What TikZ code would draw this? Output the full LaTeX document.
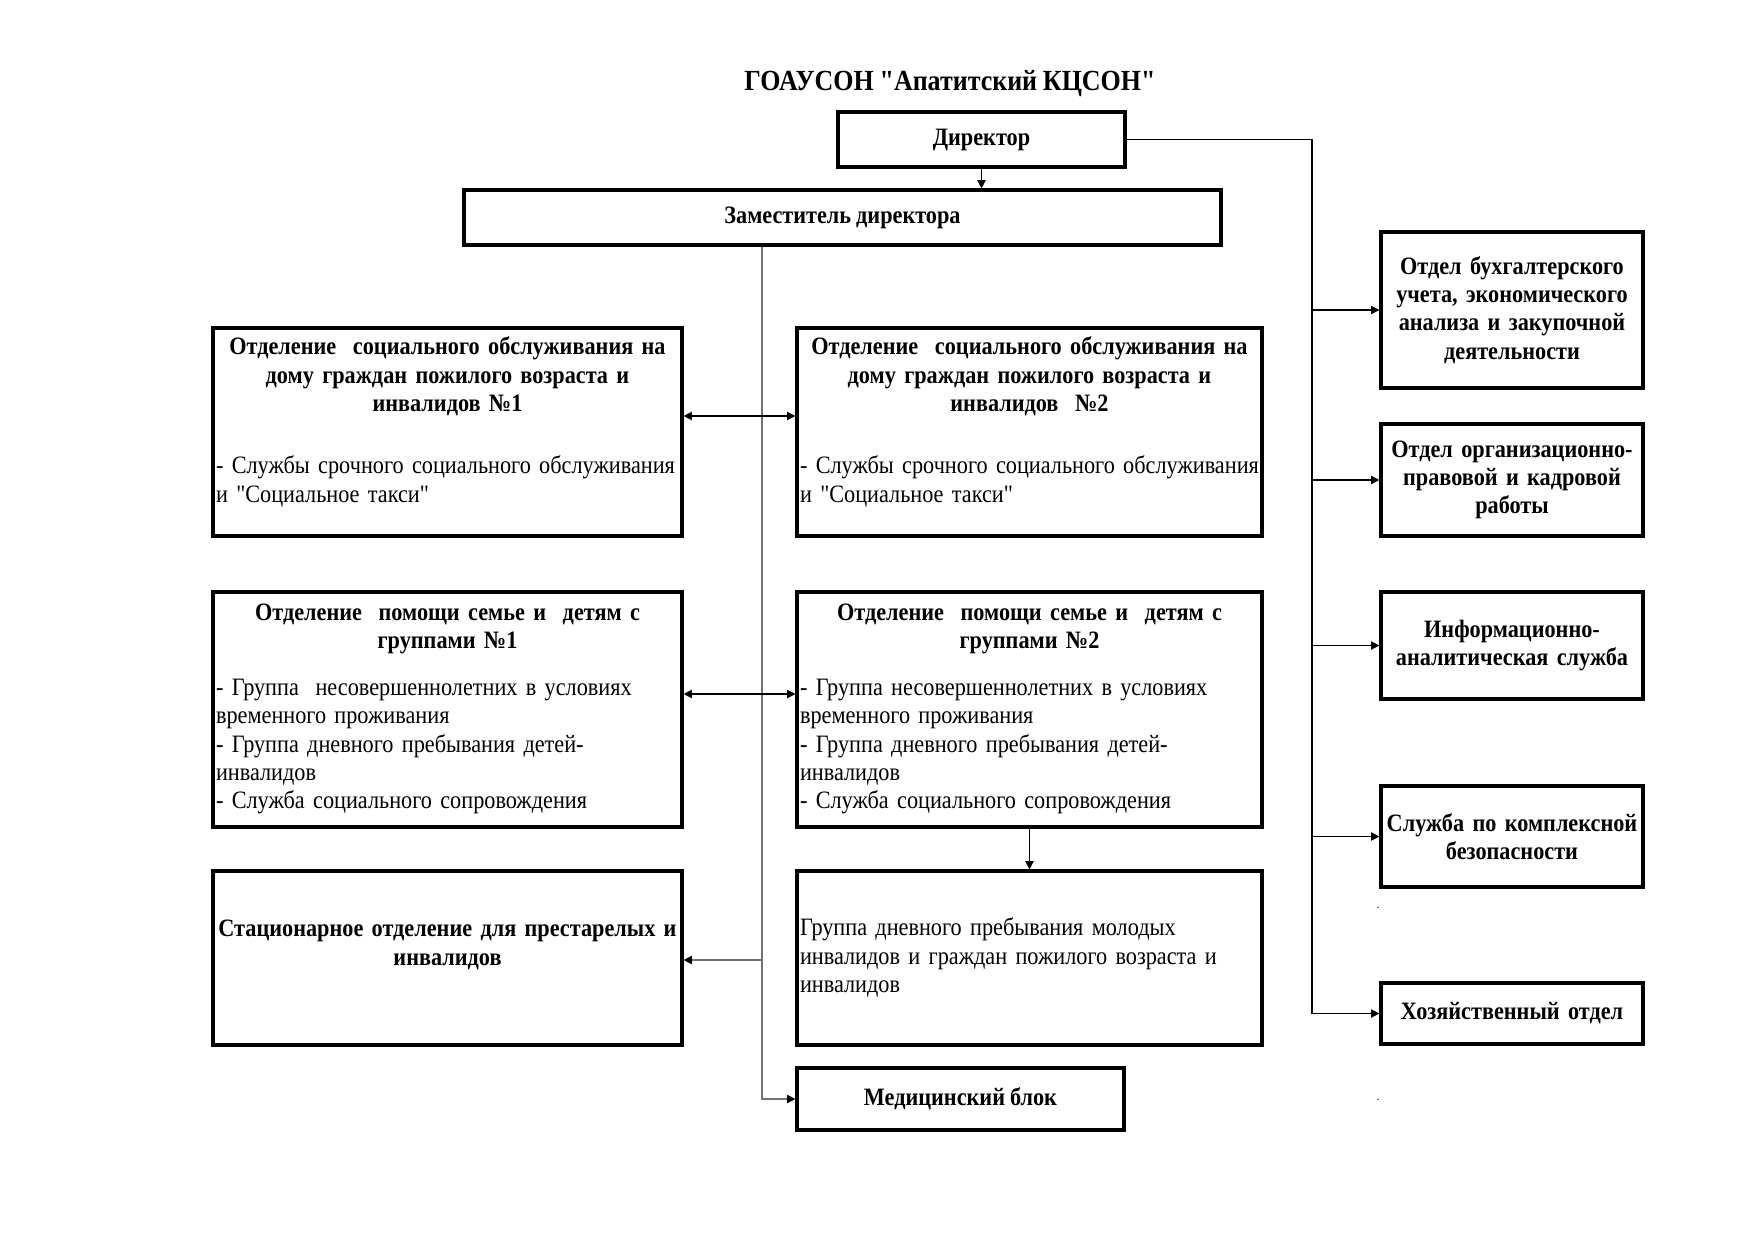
\documentclass[tikz,border=0pt]{standalone}
\usepackage{fontspec}
\setmainfont{Liberation Serif}[Ligatures=TeXOff,FakeStretch=0.89,WordSpace=0.89]
\usetikzlibrary{arrows.meta}
\setlength{\parindent}{0pt}
\begin{document}
\begin{tikzpicture}[x=0.48pt,y=-0.48pt,
  box/.style={draw,line width=1.5pt,inner sep=0pt,anchor=center,align=center,
    font=\fontsize{12}{13.6}\selectfont\bfseries},
  txt/.style={inner sep=0pt,font=\fontsize{12}{13.6}\selectfont},
  ctxt/.style={inner sep=0pt,align=center,font=\fontsize{12}{13.6}\selectfont\bfseries},
  tip/.style={-{Triangle[length=4pt,width=4pt,color=black]}},
  conn/.style={line width=0.6pt,draw=black},
  arr/.style={conn,tip},
  darr/.style={conn,{Triangle[length=4pt,width=4pt]}-{Triangle[length=4pt,width=4pt]}},
  gconn/.style={line width=0.6pt,draw=black!55},
  garr/.style={gconn,tip},
  dotnode/.style={inner sep=0pt,font=\fontsize{6}{6}\selectfont},
]
\useasboundingbox (0,0) rectangle (1754,1240);

% title
\node[inner sep=0pt,font=\fontsize{14}{16}\selectfont\bfseries] (title) at (950,84) {ГОАУСОН "Апатитский КЦСОН"};

% top boxes
\node[box,minimum width=137.8pt,minimum height=26.4pt] (dir) at (981.5,139.5) {Директор};
\node[box,minimum width=363.4pt,minimum height=26.4pt] (dep) at (842.5,217.5) {Заместитель директора};

% left/middle column boxes
\node[box,minimum width=225.1pt,minimum height=99.8pt] (A1) at (447.5,432) {};
\node[box,minimum width=223.2pt,minimum height=99.8pt] (A2) at (1029.5,432) {};
\node[box,minimum width=225.1pt,minimum height=112.8pt] (B1) at (447.5,709.5) {};
\node[box,minimum width=223.2pt,minimum height=112.8pt] (B2) at (1029.5,709.5) {};
\node[box,minimum width=225.1pt,minimum height=83.5pt] (C1) at (447.5,958) {};
\node[box,minimum width=223.2pt,minimum height=83.5pt] (C2) at (1029.5,958) {};
\node[box,minimum width=157pt,minimum height=29.8pt] (med) at (960.5,1099) {Медицинский блок};

% texts inside the large boxes
\node[txt,text width=222.2pt] (A1t) at (447.5,422) {{\centering\bfseries Отделение\ \ социального обслуживания на\\ дому граждан пожилого возраста и\\ инвалидов №1\par}\vspace{16.2pt}{\raggedright - Службы срочного социального обслуживания\\ и "Социальное такси"\par}};
\node[txt,text width=220.3pt] (A2t) at (1029.5,422) {{\centering\bfseries Отделение\ \ социального обслуживания на\\ дому граждан пожилого возраста и\\ инвалидов\ \ №2\par}\vspace{16.2pt}{\raggedright - Службы срочного социального обслуживания\\ и "Социальное такси"\par}};
\node[txt,text width=222.2pt] (B1t) at (447.5,709) {{\centering\bfseries Отделение\ \ помощи семье и\ \ детям с\\ группами №1\par}\vspace{9pt}{\raggedright - Группа\ \ несовершеннолетних в условиях\\ временного проживания\\ - Группа дневного пребывания детей-\\ инвалидов\\ - Служба социального сопровождения\par}};
\node[txt,text width=220.3pt] (B2t) at (1029.5,709) {{\centering\bfseries Отделение\ \ помощи семье и\ \ детям с\\ группами №2\par}\vspace{9pt}{\raggedright - Группа несовершеннолетних в условиях\\ временного проживания\\ - Группа дневного пребывания детей-\\ инвалидов\\ - Служба социального сопровождения\par}};
\node[ctxt,text width=222.2pt] (C1t) at (447.5,945) {Стационарное отделение для престарелых и\\ инвалидов};
\node[txt,text width=220.3pt,align=left] (C2t) at (1029.5,957.5) {Группа дневного пребывания молодых\\ инвалидов и граждан пожилого возраста и\\ инвалидов};

% right column
\node[box,minimum width=125.8pt,minimum height=74.9pt,text width=123pt] (R1) at (1512,310) {Отдел бухгалтерского\\ учета, экономического\\ анализа и закупочной\\ деятельности};
\node[box,minimum width=125.8pt,minimum height=53.8pt,text width=123pt] (R2) at (1512,480) {Отдел организационно-\\ правовой и кадровой\\ работы};
\node[box,minimum width=125.8pt,minimum height=51.4pt,text width=123pt] (R3) at (1512,645.5) {Информационно-\\ аналитическая служба};
\node[box,minimum width=125.8pt,minimum height=48.5pt,text width=123pt] (R4) at (1512,836.5) {Служба по комплексной\\ безопасности};
\node[box,minimum width=125.8pt,minimum height=29.3pt,text width=123pt] (R5) at (1512,1013.5) {Хозяйственный отдел};

\node[dotnode] (dot1) at (1378,908) {.};
\node[dotnode] (dot2) at (1378,1100) {.};

% connectors: director
\draw[arr] (dir.south) -- (dir.south |- dep.north);
\coordinate (trk) at (1312,139.5);
\coordinate (trkEnd) at (1312,1013.5);
\draw[conn] (dir.east) -- (trk) -- (trkEnd);
\draw[arr] (trk |- R1.west) -- (R1.west);
\draw[arr] (trk |- R2.west) -- (R2.west);
\draw[arr] (trk |- R3.west) -- (R3.west);
\draw[arr] (trk |- R4.west) -- (R4.west);
\draw[arr] (trkEnd) -- (R5.west);

% deputy trunk (gray)
\coordinate (dv) at (762,245);
\coordinate (cy) at (0,960);
\draw[garr] (dep.south -| dv) |- (med.west);
\draw[garr] (dv |- cy) -- (C1.east |- cy);

% between columns
\coordinate (ay) at (0,416);
\coordinate (by) at (0,694);
\draw[darr] (A1.east |- ay) -- (A2.west |- ay);
\draw[darr] (B1.east |- by) -- (B2.west |- by);
\draw[arr] (B2.south) -- (C2.north);
\end{tikzpicture}
\end{document}
